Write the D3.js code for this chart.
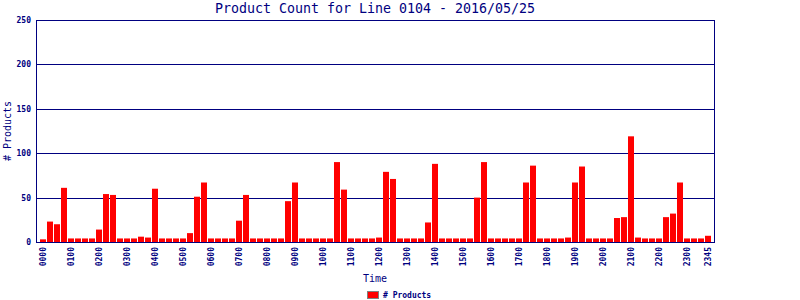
<!DOCTYPE html>
<html>
<head>
<meta charset="utf-8">
<script src="https://cdn.jsdelivr.net/npm/d3@7"></script>
<style>
  html, body { margin: 0; padding: 0; background: #ffffff; }
  svg { display: block; }
</style>
</head>
<body>
<svg id="chart" width="800" height="300"></svg>
<script>
const titleText = "Product Count for Line 0104 - 2016/05/25";
const xTitle = "Time";
const yTitle = "# Products";
const seriesName = "# Products";

const times = [
  "0000","0015","0030","0045","0100","0115","0130","0145",
  "0200","0215","0230","0245","0300","0315","0330","0345",
  "0400","0415","0430","0445","0500","0515","0530","0545",
  "0600","0615","0630","0645","0700","0715","0730","0745",
  "0800","0815","0830","0845","0900","0915","0930","0945",
  "1000","1015","1030","1045","1100","1115","1130","1145",
  "1200","1215","1230","1245","1300","1315","1330","1345",
  "1400","1415","1430","1445","1500","1515","1530","1545",
  "1600","1615","1630","1645","1700","1715","1730","1745",
  "1800","1815","1830","1845","1900","1915","1930","1945",
  "2000","2015","2030","2045","2100","2115","2130","2145",
  "2200","2215","2230","2245","2300","2315","2330","2345"
];

const products = [
  3, 23, 20, 61, 4, 4, 4, 4,
  14, 54, 53, 4, 4, 4, 6, 5,
  60, 4, 4, 4, 4, 10, 51, 67,
  4, 4, 4, 4, 24, 53, 4, 4,
  4, 4, 4, 46, 67, 4, 4, 4,
  4, 4, 90, 59, 4, 4, 4, 4,
  5, 79, 71, 4, 4, 4, 4, 22,
  88, 4, 4, 4, 4, 4, 50, 90,
  4, 4, 4, 4, 4, 67, 86, 4,
  4, 4, 4, 5, 67, 85, 4, 4,
  4, 4, 27, 28, 119, 5, 4, 4,
  4, 28, 32, 67, 4, 4, 4, 7
];

const xTickLabels = [
  "0000","0100","0200","0300","0400","0500","0600","0700","0800","0900",
  "1000","1100","1200","1300","1400","1500","1600","1700","1800","1900",
  "2000","2100","2200","2300","2345"
];

const yTicks = [0, 50, 100, 150, 200, 250];
const yMax = 250;

const navy = "#000080";
const red = "#ff0000";
const monoFont = "'DejaVu Sans Mono', 'Liberation Mono', monospace";

const svg = d3.select("#chart");
const plotLeft = 36, plotRight = 715, plotTop = 20, plotBottom = 242;

const x = d3.scaleBand()
  .domain(times)
  .range([plotLeft, plotRight])
  .paddingInner(1/7)
  .paddingOuter(0.57);

const y = d3.scaleLinear().domain([0, yMax]).range([plotBottom, plotTop]);

// gridlines
svg.append("g")
  .selectAll("line")
  .data(yTicks.filter(d => d > 0))
  .join("line")
  .attr("x1", plotLeft).attr("x2", plotRight)
  .attr("y1", d => Math.round(y(d)) + 0.5)
  .attr("y2", d => Math.round(y(d)) + 0.5)
  .attr("stroke", navy)
  .attr("stroke-width", 1);

// bars
svg.append("g")
  .selectAll("rect")
  .data(products)
  .join("rect")
  .attr("x", (d, i) => Math.round(x(times[i])))
  .attr("width", 6)
  .attr("y", d => y(d))
  .attr("height", d => plotBottom - y(d))
  .attr("fill", red);

// frame
svg.append("rect")
  .attr("x", plotLeft + 0.5).attr("y", plotTop + 0.5)
  .attr("width", plotRight - plotLeft - 1).attr("height", plotBottom - plotTop)
  .attr("fill", "none")
  .attr("stroke", navy)
  .attr("stroke-width", 1);

// y axis labels
const yAxis = svg.append("g")
  .attr("transform", `translate(${plotLeft},0)`)
  .call(d3.axisLeft(y).tickValues(yTicks).tickSize(0).tickPadding(5));
yAxis.select(".domain").remove();
yAxis.selectAll("text")
  .attr("fill", navy)
  .style("font-family", monoFont)
  .style("font-size", "8px")
  .style("font-weight", "bold");

// x axis labels
const xAxis = svg.append("g")
  .attr("transform", `translate(0,${plotBottom})`)
  .call(d3.axisBottom(x).tickValues(xTickLabels).tickSize(0).tickPadding(0));
xAxis.select(".domain").remove();
xAxis.selectAll("text")
  .attr("fill", navy)
  .style("font-family", monoFont)
  .style("font-size", "8px")
  .style("font-weight", "bold")
  .attr("text-anchor", "end")
  .attr("transform", "rotate(-90)")
  .attr("x", -5)
  .attr("y", 0)
  .attr("dy", "0.35em");

// title
svg.append("text")
  .attr("x", 375)
  .attr("y", 13)
  .attr("text-anchor", "middle")
  .attr("fill", navy)
  .style("font-family", monoFont)
  .style("font-size", "13.3px")
  .text(titleText);

// x title
svg.append("text")
  .attr("x", 375)
  .attr("y", 282)
  .attr("text-anchor", "middle")
  .attr("fill", navy)
  .style("font-family", monoFont)
  .style("font-size", "10px")
  .text(xTitle);

// y title
svg.append("text")
  .attr("transform", `translate(11,${(plotTop + plotBottom) / 2}) rotate(-90)`)
  .attr("text-anchor", "middle")
  .attr("fill", navy)
  .style("font-family", monoFont)
  .style("font-size", "10px")
  .text(yTitle);

// legend
const legend = svg.append("g");
legend.append("rect")
  .attr("x", 367.5).attr("y", 291.5)
  .attr("width", 11).attr("height", 7)
  .attr("fill", red)
  .attr("stroke", "#808080")
  .attr("stroke-width", 1);
legend.append("text")
  .attr("x", 383)
  .attr("y", 298)
  .attr("fill", navy)
  .style("font-family", monoFont)
  .style("font-size", "8px")
  .style("font-weight", "bold")
  .text(seriesName);
</script>
</body>
</html>
